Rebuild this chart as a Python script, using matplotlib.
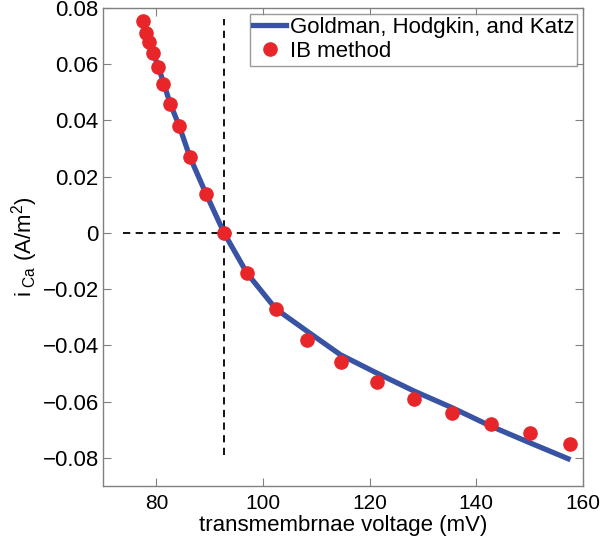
import matplotlib
matplotlib.use("Agg")
import matplotlib.pyplot as plt

# Goldman-Hodgkin-Katz curve
ghk_v = [77.4, 78.6, 80.4, 82.6, 84.3, 86.3, 89.3, 92.7, 97.0, 102.4,
         108.3, 114.5, 121.3, 128.4, 135.5, 142.7, 150.0, 157.2]
ghk_i = [0.075, 0.068, 0.059, 0.046, 0.038, 0.027, 0.014, 0.0, -0.0143, -0.027,
         -0.035, -0.0433, -0.0498, -0.0563, -0.0622, -0.0687, -0.0746, -0.0803]

# IB method samples
ib_v = [77.45, 78.0, 78.6, 79.4, 80.4, 81.3, 82.6, 84.3, 86.3, 89.3, 92.7,
        97.0, 102.4, 108.25, 114.6, 121.3, 128.4, 135.5, 142.7, 150.0, 157.5]
ib_i = [0.0752, 0.071, 0.068, 0.064, 0.059, 0.053, 0.046, 0.038, 0.027, 0.014, 0.0,
        -0.0143, -0.027, -0.038, -0.046, -0.053, -0.059, -0.064, -0.068, -0.071, -0.075]

v_rev = 92.7
hline_x = [73.7, 156.1]
vline_y = [-0.079, 0.076]

plt.rcParams["font.family"] = ["Liberation Sans", "DejaVu Sans"]
plt.rcParams["mathtext.fontset"] = "custom"
plt.rcParams["mathtext.rm"] = "Liberation Sans"
plt.rcParams["mathtext.it"] = "Liberation Sans"

fig = plt.figure(figsize=(6.0, 5.37), dpi=100)
ax = fig.add_axes([103 / 600, 1 - 486 / 537, 480 / 600, 478 / 537])

ax.plot(hline_x, [0, 0], ls="--", color="black", lw=1.3, dashes=(4, 3))
ax.plot([v_rev, v_rev], vline_y, ls="--", color="black", lw=1.3, dashes=(4, 3))

ax.plot(ghk_v, ghk_i, color="#3953a4", lw=3.8, label="Goldman, Hodgkin, and Katz",
        zorder=3)
ax.plot(ib_v, ib_i, ls="none", marker="o", ms=9.5, color="#e8262a", mec="#e8262a",
        label="IB method", zorder=4)

ax.set_xlim(70, 160)
ax.set_ylim(-0.09, 0.08)
ax.set_xticks([80, 100, 120, 140, 160])
ax.set_yticks([-0.08, -0.06, -0.04, -0.02, 0, 0.02, 0.04, 0.06, 0.08])
ax.set_yticklabels(["\u22120.08", "\u22120.06", "\u22120.04", "\u22120.02", "0",
                    "0.02", "0.04", "0.06", "0.08"])

for s in ax.spines.values():
    s.set_color("#808080")
    s.set_linewidth(1.0)
ax.tick_params(direction="in", top=True, right=True, length=6, color="#808080",
               labelcolor="black")
ax.tick_params(axis="x", pad=6, labelsize=15)
ax.tick_params(axis="y", pad=3, labelsize=16)

ax.set_xlabel("transmembrnae voltage (mV)", fontsize=16, labelpad=1.5)
ax.set_ylabel(r"i$_{\ \mathrm{Ca}}$ (A/m$^2$)", fontsize=16, labelpad=2)

leg = ax.legend(loc="upper right", fontsize=16, frameon=True, fancybox=False,
                borderpad=0.15, handlelength=1.5, handletextpad=0.15,
                labelspacing=0.15, borderaxespad=0.25)
leg.get_frame().set_edgecolor("#808080")
leg.get_frame().set_linewidth(1.0)

fig.savefig("out.png", dpi=100)
